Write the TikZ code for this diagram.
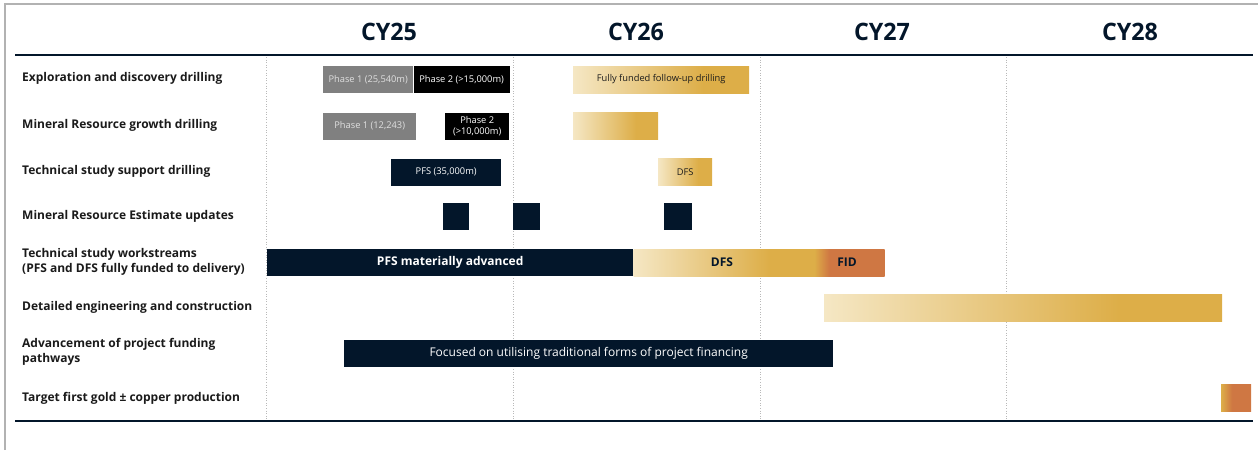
\documentclass[tikz,border=0pt]{standalone}
\usepackage{fontspec}
\setmainfont{Open Sans}
\newfontfamily\yearfont[FakeStretch=0.97]{Open Sans}
\usetikzlibrary{positioning}

\definecolor{navy}{RGB}{3,22,42}
\definecolor{cream}{RGB}{245,231,196}
\definecolor{gold}{RGB}{221,174,72}
\definecolor{rust}{RGB}{207,119,67}
\definecolor{midgray}{RGB}{128,128,128}
\definecolor{ink}{RGB}{26,26,26}

\pgfdeclarehorizontalshading{goldfade}{100bp}{color(0bp)=(cream); color(25bp)=(cream); color(62bp)=(gold); color(100bp)=(gold)}
\pgfdeclarehorizontalshading{dfsfid}{100bp}{color(0bp)=(cream); color(25bp)=(cream); color(52bp)=(gold); color(61bp)=(gold); color(64bp)=(rust); color(100bp)=(rust)}
\pgfdeclarehorizontalshading{golddot}{100bp}{color(0bp)=(gold); color(25bp)=(gold); color(43bp)=(rust); color(100bp)=(rust)}

\begin{document}
\begin{tikzpicture}[
    x=1pt, y=-1pt,
    year/.style={font=\yearfont\bfseries\fontsize{24}{28}\selectfont, text=navy},
    task/.style={anchor=west, align=left, inner sep=0pt, text=ink, font=\bfseries\fontsize{12}{15}\selectfont},
    bar/.style={rectangle, anchor=west, inner sep=0pt, minimum height=27pt, align=center, text=white, font=\fontsize{9.3}{11}\selectfont},
    navybar/.style={bar, fill=navy},
    goldbar/.style={bar, shade, shading=goldfade, text=ink},
    rule/.style={navy, line width=2.5pt},
    grid/.style={gray!55, dotted, line width=0.6pt}
]
\useasboundingbox (0,0) rectangle (1258,450);

% Frame and rules
\draw[gray!60, line width=1.5pt] (5,450) -- (5,4) -- (1258,4);
\draw[rule] (15,55) -- (1253,55);
\draw[rule] (15,421) -- (1253,421);
\foreach \x in {266,513,760,1006}
    \draw[grid] (\x,57) -- (\x,419);

% Years
\foreach \yr/\x in {25/389,26/636,27/882,28/1130}
    \node[year] (cy\yr) at (\x,32) {CY\yr};

% Tasks
\node[task] (explore) at (22,78) {Exploration and discovery drilling};
\node[task] (growth) at (22,125) {Mineral Resource growth drilling};
\node[task] (support) at (22,171) {Technical study support drilling};
\node[task] (mre) at (22,216) {Mineral Resource Estimate updates};
\node[task] (streams) at (22,261.5) {Technical study workstreams\\(PFS and DFS fully funded to delivery)};
\node[task] (build) at (22,307) {Detailed engineering and construction};
\node[task] (funding) at (22,352) {Advancement of project funding\\pathways};
\node[task] (first) at (22,398) {Target first gold \textpm{} copper production};

% Bars
\node[bar, fill=midgray, text=white!88!black, minimum width=90pt] (exp1) at (323,79.5) {Phase 1 (25,540m)};
\node[bar, fill=black, minimum width=96pt, right=0pt of exp1] (exp2) {Phase 2 (>15,000m)};
\node[goldbar, minimum width=176pt] (expfund) at (573,79.5) {Fully funded follow-up drilling};

\node[bar, fill=midgray, text=white!88!black, minimum width=93pt] (grow1) at (323,126) {Phase 1 (12,243)};
\node[bar, fill=black, minimum width=64pt] (grow2) at (445,126) {Phase 2\\(>10,000m)};
\node[goldbar, minimum width=85pt] (growfund) at (573,126) {};

\node[navybar, minimum width=110pt] (pfsdrill) at (391,172) {PFS (35,000m)};
\node[goldbar, minimum width=54pt] (dfsdrill) at (658,172) {DFS};

\node[navybar, minimum width=26pt] (mre1) at (443,216.5) {};
\node[navybar, minimum width=27pt] (mre2) at (513,216.5) {};
\node[navybar, minimum width=28pt] (mre3) at (664,216.5) {};

\node[navybar, minimum width=366pt, font=\bfseries\fontsize{12}{14}\selectfont] (pfs) at (267,262.5) {PFS materially advanced};
\node[bar, shade, shading=dfsfid, minimum width=251pt, right=0pt of pfs] (dfsfid) {};
\node[text=navy, font=\bfseries\fontsize{12}{14}\selectfont] (dfs) at (722,262.5) {DFS};
\node[text=navy, font=\bfseries\fontsize{12}{14}\selectfont] (fid) at (847,262.5) {FID};

\node[goldbar, minimum width=398pt] (construct) at (824,308) {};

\node[navybar, minimum width=489pt, font=\fontsize{12}{14}\selectfont] (finance) at (344,353) {Focused on utilising traditional forms of project financing};

\node[bar, shade, shading=golddot, minimum width=30pt] (gold) at (1221,398) {};

\end{tikzpicture}
\end{document}
